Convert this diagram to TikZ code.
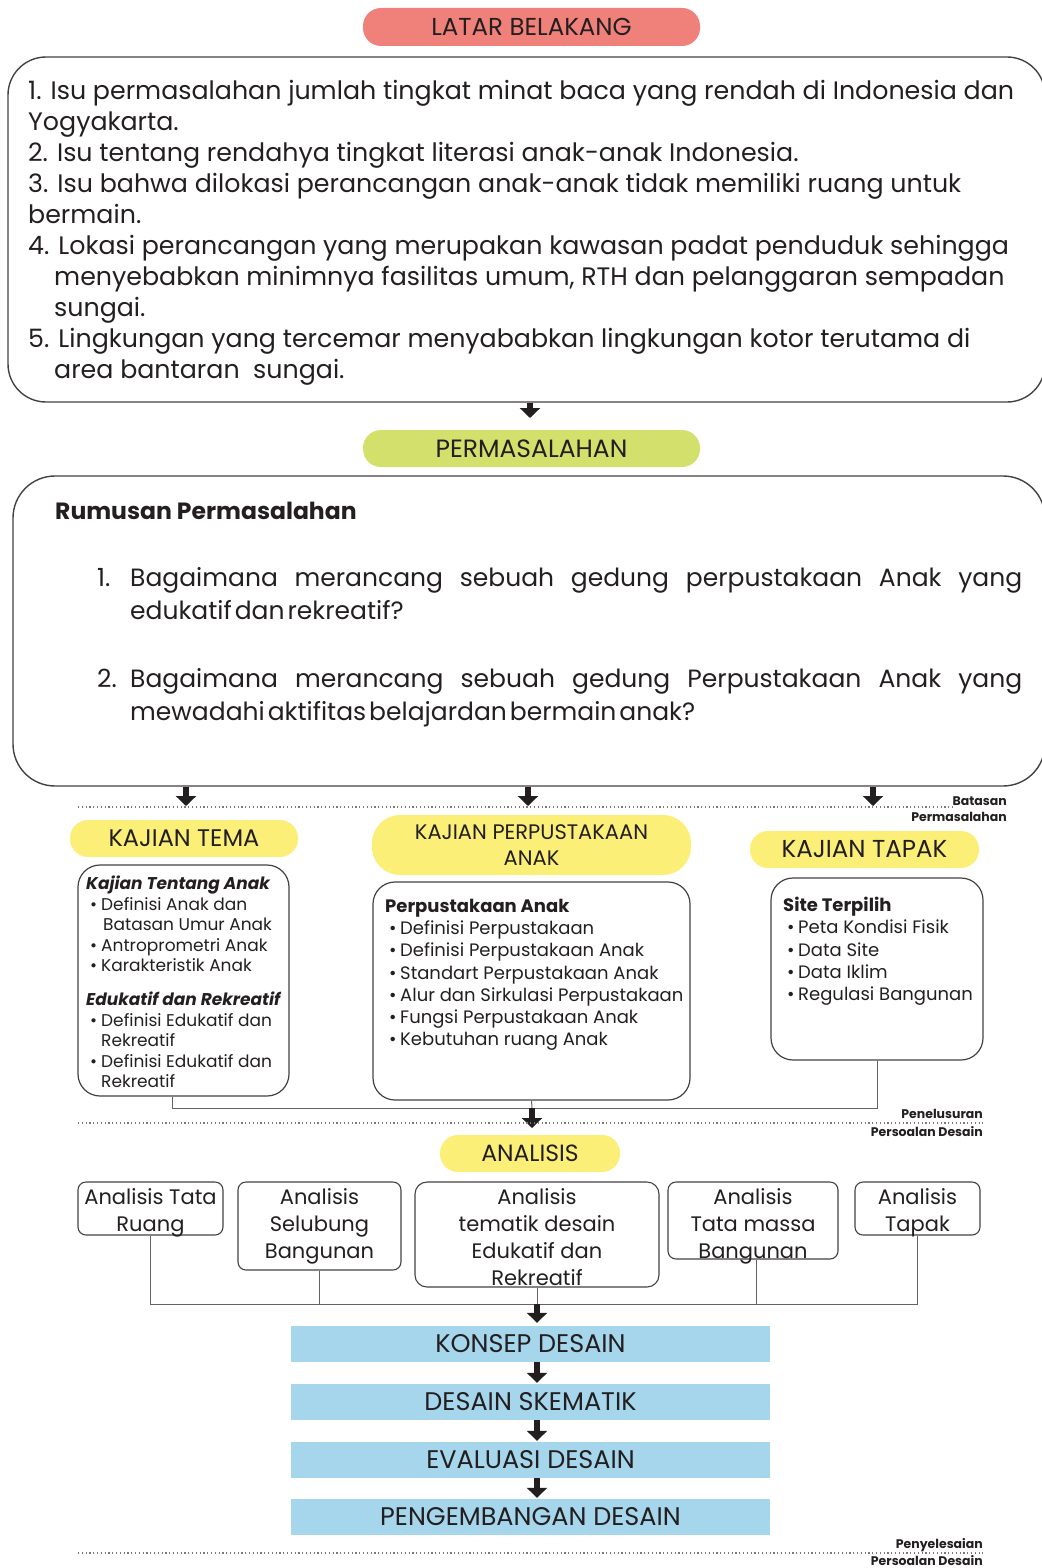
\documentclass[tikz,border=0pt]{standalone}
\usepackage{fontspec}
\setmainfont{Poppins}
\usetikzlibrary{arrows.meta,positioning}
\definecolor{salmon}{HTML}{F0807A}
\definecolor{lime}{HTML}{D4E06C}
\definecolor{lemon}{HTML}{FBEF78}
\definecolor{sky}{HTML}{A6D6EC}
\definecolor{ink}{HTML}{231F20}
\newcommand{\bitem}[1]{\makebox[15pt][l]{\hspace{4pt}•}#1}
\tikzset{
  pill/.style={fill=lemon, rounded corners=18pt, inner sep=0pt, minimum height=37pt},
  bigbox/.style={draw=ink!85, line width=1.4pt, rounded corners=38pt},
  kbox/.style={draw=ink!85, line width=1.2pt, rounded corners=22pt, inner sep=0pt},
  abox/.style={draw=ink!85, line width=1.1pt, rounded corners=8pt, inner sep=0pt},
  atext/.style={anchor=north, inner sep=0pt, align=center, font=\fontsize{21pt}{27pt}\selectfont},
  stepbar/.style={fill=sky, inner sep=0pt, minimum width=479pt, minimum height=36pt, font=\fontsize{25.5pt}{28pt}\selectfont},
  arr/.style={line width=6pt, -{Triangle[width=20pt,length=10pt]}, draw=ink},
  conn/.style={draw=ink!70, line width=1pt},
  dots/.style={draw=ink!60, line width=1.2pt, dash pattern=on 1.2pt off 2.6pt},
  side/.style={font=\bfseries\fontsize{12.5pt}{14pt}\selectfont, inner sep=0pt, anchor=east},
}

\begin{document}
\begin{tikzpicture}[x=1pt,y=-1pt,every node/.style={text=ink}]
\useasboundingbox (0,0) rectangle (1041,1568);
% latar belakang
\node[pill, fill=salmon, minimum width=337pt, minimum height=38pt, font=\fontsize{24.5pt}{28pt}\selectfont] (latar) at (531.5,27) {LATAR BELAKANG};
\node[bigbox, minimum width=1037pt, minimum height=345pt] (latarbox) at (526.5,229.5) {};
\node[anchor=west, inner sep=0pt, align=left, font=\fontsize{25.3pt}{31pt}\selectfont] (latartext) at (28,233) {1. Isu permasalahan jumlah tingkat minat baca yang rendah di Indonesia dan\\
Yogyakarta.\\
2. Isu tentang rendahya tingkat literasi anak-anak Indonesia.\\
3. Isu bahwa dilokasi perancangan anak-anak tidak memiliki ruang untuk\\
bermain.\\
4. Lokasi perancangan yang merupakan kawasan padat penduduk sehingga\\
\hspace*{26pt}menyebabkan minimnya fasilitas umum, RTH dan pelanggaran sempadan\\
\hspace*{26pt}sungai.\\
5. Lingkungan yang tercemar menyababkan lingkungan kotor terutama di\\
\hspace*{26pt}area bantaran\ \ sungai.};
\coordinate (p0) at (530,418);
\draw[arr] (latarbox.south -| p0) -- (p0);
% permasalahan
\node[pill, fill=lime, minimum width=337pt, font=\fontsize{25pt}{28pt}\selectfont] (perm) at (531.5,448.5) {PERMASALAHAN};
\node[bigbox, rounded corners=42pt, minimum width=1032pt, minimum height=310pt] (rumusbox) at (529,631) {};
\node[anchor=west, inner sep=0pt, font=\bfseries\fontsize{23.5pt}{27pt}\selectfont] (rumustitle) at (55,511) {Rumusan Permasalahan};
\node[anchor=north west, inner sep=0pt, text width=925pt, align=justify, font=\fontsize{25pt}{33pt}\selectfont] (rumus1) at (97,567) {\makebox[33pt][l]{1.}Bagaimana merancang sebuah gedung perpustakaan Anak yang\linebreak
\hspace*{33pt}{\spaceskip=3pt edukatif dan rekreatif?}};
\node[anchor=north west, inner sep=0pt, text width=925pt, align=justify, font=\fontsize{25pt}{33pt}\selectfont] (rumus2) at (97,668) {\makebox[33pt][l]{2.}Bagaimana merancang sebuah gedung Perpustakaan Anak yang\linebreak
\hspace*{33pt}{\spaceskip=3pt mewadahi aktifitas belajardan bermain anak?}};
\coordinate (k1) at (186,806);
\coordinate (k2) at (528,806);
\coordinate (k3) at (873,806);
\draw[arr] (rumusbox.south -| k1) -- (k1);
\draw[arr] (rumusbox.south -| k2) -- (k2);
\draw[arr] (rumusbox.south -| k3) -- (k3);
% batasan permasalahan
\coordinate (d1a) at (78,807);
\coordinate (d1b) at (953,807);
\draw[dots] (d1a) -- (d1b);
\node[side] (batas1) at (1007,801) {Batasan};
\node[side] (batas2) at (1007,817) {Permasalahan};
% kajian
\node[pill, minimum width=228pt, font=\fontsize{24pt}{28pt}\selectfont] (ktema) at (184,838.5) {KAJIAN TEMA};
\node[pill, rounded corners=28pt, minimum width=319pt, minimum height=60pt, align=center, font=\fontsize{21pt}{26pt}\selectfont] (kperpus) at (531.5,845) {KAJIAN PERPUSTAKAAN\\ANAK};
\node[pill, minimum width=229pt, font=\fontsize{24.5pt}{28pt}\selectfont] (ktapak) at (864.5,849.5) {KAJIAN TAPAK};
\node[kbox, minimum width=211pt, minimum height=231pt] (tbox) at (183.5,980.5) {};
\node[kbox, minimum width=317pt, minimum height=218pt] (pbox) at (531.5,991) {};
\node[kbox, minimum width=212pt, minimum height=182pt] (sbox) at (877,969) {};
\node[anchor=north west, inner sep=0pt, align=left, font=\fontsize{17pt}{20.4pt}\selectfont] (ttext) at (86,876) {\textbf{\textit{Kajian Tentang Anak}}\\
\bitem{Definisi Anak dan}\\
\hspace*{17pt}Batasan Umur Anak\\
\bitem{Antroprometri Anak}\\
\bitem{Karakteristik Anak}\\[14pt]
\textbf{\textit{Edukatif dan Rekreatif}}\\
\bitem{Definisi Edukatif dan}\\
\hspace*{15pt}Rekreatif\\
\bitem{Definisi Edukatif dan}\\
\hspace*{15pt}Rekreatif};
\node[anchor=north west, inner sep=0pt, align=left, font=\fontsize{18pt}{22.2pt}\selectfont] (ptext) at (385,899) {\textbf{Perpustakaan Anak}\\
\bitem{Definisi Perpustakaan}\\
\bitem{Definisi Perpustakaan Anak}\\
\bitem{Standart Perpustakaan Anak}\\
\bitem{Alur dan Sirkulasi Perpustakaan}\\
\bitem{Fungsi Perpustakaan Anak}\\
\bitem{Kebutuhan ruang Anak}};
\node[anchor=north west, inner sep=0pt, align=left, font=\fontsize{18pt}{22.2pt}\selectfont] (stext) at (783,897) {\textbf{Site Terpilih}\\
\bitem{Peta Kondisi Fisik}\\
\bitem{Data Site}\\
\bitem{Data Iklim}\\
\bitem{Regulasi Bangunan}};
\coordinate (j1) at (532,1108);
\coordinate (an0) at (532,1128);
\draw[conn] ([xshift=-11pt]tbox.south) |- (j1) -| (sbox.south);
\draw[conn] (pbox.south) -- (j1);
\draw[arr] (j1) -- (an0);
% penelusuran persoalan desain
\coordinate (d2a) at (78,1123);
\coordinate (d2b) at (983,1123);
\draw[dots] (d2a) -- (d2b);
\node[side] (telusur1) at (983,1114) {Penelusuran};
\node[side] (telusur2) at (983,1132) {Persoalan Desain};
% analisis
\node[pill, minimum width=180pt, font=\fontsize{23.5pt}{27pt}\selectfont] (analisis) at (530,1153.5) {ANALISIS};
\node[abox, minimum width=145pt, minimum height=53pt] (a1) at (150.5,1208.5) {};
\node[abox, minimum width=163pt, minimum height=88pt] (a2) at (319.5,1226) {};
\node[abox, minimum width=244pt, minimum height=105pt, rounded corners=12pt] (a3) at (537,1234.5) {};
\node[abox, minimum width=170pt, minimum height=77pt] (a4) at (753,1220.5) {};
\node[abox, minimum width=125pt, minimum height=53pt] (a5) at (917.5,1208.5) {};
\node[atext] (a1t) at ([yshift=-7pt]a1.north) {Analisis Tata\\Ruang};
\node[atext] (a2t) at ([yshift=-7pt]a2.north) {Analisis\\Selubung\\Bangunan};
\node[atext] (a3t) at ([yshift=-7pt]a3.north) {Analisis\\tematik desain\\Edukatif dan\\Rekreatif};
\node[atext] (a4t) at ([yshift=-7pt]a4.north) {Analisis\\Tata massa\\Bangunan};
\node[atext] (a5t) at ([yshift=-7pt]a5.north) {Analisis\\Tapak};
\coordinate (j2) at (537,1304);
\draw[conn] (a1.south) |- (j2) -| (a5.south);
\draw[conn] (a2.south) -- (a2.south |- j2);
\draw[conn] (a3.south) -- (a3.south |- j2);
\draw[conn] ([xshift=3pt]a4.south) -- ([xshift=3pt]a4.south |- j2);
% tahap desain
\node[stepbar] (konsep) at (530.5,1344) {KONSEP DESAIN};
\node[stepbar] (skematik) at (530.5,1402) {DESAIN SKEMATIK};
\node[stepbar] (evaluasi) at (530.5,1460) {EVALUASI DESAIN};
\node[stepbar] (kembang) at (530.5,1517) {PENGEMBANGAN DESAIN};
\draw[arr, shorten >=3pt] (j2) -- (konsep.north -| j2);
\foreach \a/\b in {konsep/skematik,skematik/evaluasi,evaluasi/kembang}
  \draw[arr, shorten >=1pt] (\a.south -| j2) -- (\b.north -| j2);
% penyelesaian persoalan desain
\coordinate (d3a) at (78,1553);
\coordinate (d3b) at (983,1553);
\draw[dots] (d3a) -- (d3b);
\node[side] (selesai1) at (983,1545) {Penyelesaian};
\node[side] (selesai2) at (983,1561) {Persoalan Desain};
\end{tikzpicture}
\end{document}
